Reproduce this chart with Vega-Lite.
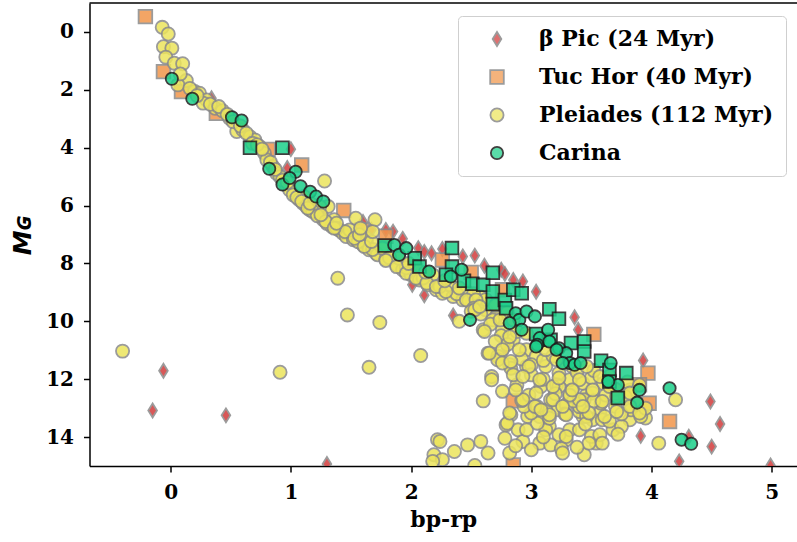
{
  "$schema": "https://vega.github.io/schema/vega-lite/v6.json",
  "width": 707.5,
  "height": 463,
  "autosize": {"type": "none"},
  "padding": {"left": 89.5, "top": 3, "right": 0, "bottom": 76},
  "background": "white",
  "config": {"view": {"stroke": null}, "legend": {"strokeColor": "#cfcfcf"}},
  "layer": [
    {
      "data": {"values": [
        {"group":"β Pic (24 Myr)","bp_rp":-0.06,"M_G":11.71},{"group":"β Pic (24 Myr)","bp_rp":-0.15,"M_G":13.08},{"group":"β Pic (24 Myr)","bp_rp":0.46,"M_G":13.25},{"group":"β Pic (24 Myr)","bp_rp":1.30,"M_G":14.93},
        {"group":"β Pic (24 Myr)","bp_rp":0.34,"M_G":2.29},{"group":"β Pic (24 Myr)","bp_rp":1.00,"M_G":4.05},{"group":"β Pic (24 Myr)","bp_rp":0.97,"M_G":4.70},{"group":"β Pic (24 Myr)","bp_rp":1.60,"M_G":6.57},
        {"group":"β Pic (24 Myr)","bp_rp":1.67,"M_G":6.84},{"group":"β Pic (24 Myr)","bp_rp":1.79,"M_G":6.84},{"group":"β Pic (24 Myr)","bp_rp":1.85,"M_G":6.90},{"group":"β Pic (24 Myr)","bp_rp":1.93,"M_G":7.15},
        {"group":"β Pic (24 Myr)","bp_rp":2.06,"M_G":7.47},{"group":"β Pic (24 Myr)","bp_rp":2.11,"M_G":7.60},{"group":"β Pic (24 Myr)","bp_rp":2.17,"M_G":7.65},{"group":"β Pic (24 Myr)","bp_rp":2.26,"M_G":7.50},
        {"group":"β Pic (24 Myr)","bp_rp":2.43,"M_G":7.76},{"group":"β Pic (24 Myr)","bp_rp":2.53,"M_G":7.73},{"group":"β Pic (24 Myr)","bp_rp":2.61,"M_G":8.08},{"group":"β Pic (24 Myr)","bp_rp":2.75,"M_G":8.22},
        {"group":"β Pic (24 Myr)","bp_rp":2.78,"M_G":8.36},{"group":"β Pic (24 Myr)","bp_rp":2.85,"M_G":8.57},{"group":"β Pic (24 Myr)","bp_rp":2.93,"M_G":8.62},{"group":"β Pic (24 Myr)","bp_rp":3.04,"M_G":8.98},
        {"group":"β Pic (24 Myr)","bp_rp":3.36,"M_G":9.86},{"group":"β Pic (24 Myr)","bp_rp":3.39,"M_G":10.29},{"group":"β Pic (24 Myr)","bp_rp":3.93,"M_G":11.35},{"group":"β Pic (24 Myr)","bp_rp":4.49,"M_G":12.77},
        {"group":"β Pic (24 Myr)","bp_rp":4.57,"M_G":13.55},{"group":"β Pic (24 Myr)","bp_rp":3.91,"M_G":13.96},{"group":"β Pic (24 Myr)","bp_rp":4.50,"M_G":14.33},{"group":"β Pic (24 Myr)","bp_rp":4.23,"M_G":14.84},
        {"group":"β Pic (24 Myr)","bp_rp":4.99,"M_G":14.98},{"group":"β Pic (24 Myr)","bp_rp":4.31,"M_G":13.99},{"group":"β Pic (24 Myr)","bp_rp":2.11,"M_G":9.10},{"group":"β Pic (24 Myr)","bp_rp":2.35,"M_G":9.80},
        {"group":"β Pic (24 Myr)","bp_rp":2.01,"M_G":8.74},{"group":"β Pic (24 Myr)","bp_rp":2.79,"M_G":10.93},
        {"group":"Tuc Hor (40 Myr)","bp_rp":-0.21,"M_G":-0.53},{"group":"Tuc Hor (40 Myr)","bp_rp":-0.06,"M_G":1.37},{"group":"Tuc Hor (40 Myr)","bp_rp":0.09,"M_G":2.06},{"group":"Tuc Hor (40 Myr)","bp_rp":0.38,"M_G":2.81},
        {"group":"Tuc Hor (40 Myr)","bp_rp":0.81,"M_G":4.06},{"group":"Tuc Hor (40 Myr)","bp_rp":1.09,"M_G":4.60},{"group":"Tuc Hor (40 Myr)","bp_rp":1.44,"M_G":6.17},{"group":"Tuc Hor (40 Myr)","bp_rp":1.59,"M_G":6.84},
        {"group":"Tuc Hor (40 Myr)","bp_rp":1.79,"M_G":7.06},{"group":"Tuc Hor (40 Myr)","bp_rp":2.26,"M_G":7.88},{"group":"Tuc Hor (40 Myr)","bp_rp":2.50,"M_G":8.31},{"group":"Tuc Hor (40 Myr)","bp_rp":2.76,"M_G":8.91},
        {"group":"Tuc Hor (40 Myr)","bp_rp":3.52,"M_G":10.45},{"group":"Tuc Hor (40 Myr)","bp_rp":3.97,"M_G":11.79},{"group":"Tuc Hor (40 Myr)","bp_rp":3.90,"M_G":12.19},{"group":"Tuc Hor (40 Myr)","bp_rp":2.85,"M_G":12.75},
        {"group":"Tuc Hor (40 Myr)","bp_rp":3.98,"M_G":12.83},{"group":"Tuc Hor (40 Myr)","bp_rp":4.15,"M_G":13.46},{"group":"Tuc Hor (40 Myr)","bp_rp":2.85,"M_G":14.96},
        {"group":"Pleiades (112 Myr)","bp_rp":-0.07,"M_G":-0.16},{"group":"Pleiades (112 Myr)","bp_rp":-0.02,"M_G":0.07},{"group":"Pleiades (112 Myr)","bp_rp":-0.06,"M_G":0.51},{"group":"Pleiades (112 Myr)","bp_rp":0.01,"M_G":0.56},
        {"group":"Pleiades (112 Myr)","bp_rp":-0.04,"M_G":0.87},{"group":"Pleiades (112 Myr)","bp_rp":0.03,"M_G":1.08},{"group":"Pleiades (112 Myr)","bp_rp":0.10,"M_G":1.10},{"group":"Pleiades (112 Myr)","bp_rp":0.13,"M_G":1.68},
        {"group":"Pleiades (112 Myr)","bp_rp":0.06,"M_G":1.83},{"group":"Pleiades (112 Myr)","bp_rp":0.20,"M_G":2.06},{"group":"Pleiades (112 Myr)","bp_rp":0.24,"M_G":2.12},{"group":"Pleiades (112 Myr)","bp_rp":0.30,"M_G":2.35},
        {"group":"Pleiades (112 Myr)","bp_rp":0.27,"M_G":2.46},{"group":"Pleiades (112 Myr)","bp_rp":0.37,"M_G":2.64},{"group":"Pleiades (112 Myr)","bp_rp":0.43,"M_G":2.72},{"group":"Pleiades (112 Myr)","bp_rp":0.49,"M_G":2.98},
        {"group":"Pleiades (112 Myr)","bp_rp":0.55,"M_G":3.44},{"group":"Pleiades (112 Myr)","bp_rp":0.60,"M_G":3.39},{"group":"Pleiades (112 Myr)","bp_rp":0.66,"M_G":3.62},{"group":"Pleiades (112 Myr)","bp_rp":0.70,"M_G":3.73},
        {"group":"Pleiades (112 Myr)","bp_rp":0.74,"M_G":3.96},{"group":"Pleiades (112 Myr)","bp_rp":0.78,"M_G":4.19},{"group":"Pleiades (112 Myr)","bp_rp":0.80,"M_G":4.42},{"group":"Pleiades (112 Myr)","bp_rp":0.85,"M_G":4.65},
        {"group":"Pleiades (112 Myr)","bp_rp":0.88,"M_G":4.88},{"group":"Pleiades (112 Myr)","bp_rp":0.91,"M_G":5.00},{"group":"Pleiades (112 Myr)","bp_rp":0.96,"M_G":5.28},{"group":"Pleiades (112 Myr)","bp_rp":0.99,"M_G":5.46},
        {"group":"Pleiades (112 Myr)","bp_rp":1.02,"M_G":5.63},{"group":"Pleiades (112 Myr)","bp_rp":1.28,"M_G":5.15},{"group":"Pleiades (112 Myr)","bp_rp":1.07,"M_G":5.80},{"group":"Pleiades (112 Myr)","bp_rp":1.10,"M_G":5.92},
        {"group":"Pleiades (112 Myr)","bp_rp":1.13,"M_G":6.03},{"group":"Pleiades (112 Myr)","bp_rp":1.16,"M_G":6.15},{"group":"Pleiades (112 Myr)","bp_rp":1.21,"M_G":6.26},{"group":"Pleiades (112 Myr)","bp_rp":1.27,"M_G":6.49},
        {"group":"Pleiades (112 Myr)","bp_rp":1.31,"M_G":6.03},{"group":"Pleiades (112 Myr)","bp_rp":1.34,"M_G":6.72},{"group":"Pleiades (112 Myr)","bp_rp":1.40,"M_G":6.84},{"group":"Pleiades (112 Myr)","bp_rp":1.43,"M_G":6.95},
        {"group":"Pleiades (112 Myr)","bp_rp":1.46,"M_G":7.07},{"group":"Pleiades (112 Myr)","bp_rp":1.52,"M_G":7.18},{"group":"Pleiades (112 Myr)","bp_rp":1.60,"M_G":7.36},{"group":"Pleiades (112 Myr)","bp_rp":1.63,"M_G":7.30},
        {"group":"Pleiades (112 Myr)","bp_rp":1.65,"M_G":7.53},{"group":"Pleiades (112 Myr)","bp_rp":1.71,"M_G":7.65},{"group":"Pleiades (112 Myr)","bp_rp":1.72,"M_G":7.70},{"group":"Pleiades (112 Myr)","bp_rp":1.79,"M_G":7.85},
        {"group":"Pleiades (112 Myr)","bp_rp":1.88,"M_G":8.05},{"group":"Pleiades (112 Myr)","bp_rp":1.93,"M_G":8.22},{"group":"Pleiades (112 Myr)","bp_rp":2.00,"M_G":8.39},{"group":"Pleiades (112 Myr)","bp_rp":2.07,"M_G":8.57},
        {"group":"Pleiades (112 Myr)","bp_rp":2.14,"M_G":8.74},{"group":"Pleiades (112 Myr)","bp_rp":2.21,"M_G":8.91},{"group":"Pleiades (112 Myr)","bp_rp":2.26,"M_G":9.03},{"group":"Pleiades (112 Myr)","bp_rp":2.35,"M_G":9.14},
        {"group":"Pleiades (112 Myr)","bp_rp":2.43,"M_G":9.26},{"group":"Pleiades (112 Myr)","bp_rp":2.51,"M_G":9.37},{"group":"Pleiades (112 Myr)","bp_rp":2.62,"M_G":9.60},{"group":"Pleiades (112 Myr)","bp_rp":2.71,"M_G":9.83},
        {"group":"Pleiades (112 Myr)","bp_rp":2.40,"M_G":10.00},{"group":"Pleiades (112 Myr)","bp_rp":1.11,"M_G":5.69},{"group":"Pleiades (112 Myr)","bp_rp":1.24,"M_G":6.03},{"group":"Pleiades (112 Myr)","bp_rp":1.36,"M_G":6.49},
        {"group":"Pleiades (112 Myr)","bp_rp":1.49,"M_G":6.84},{"group":"Pleiades (112 Myr)","bp_rp":1.63,"M_G":7.13},{"group":"Pleiades (112 Myr)","bp_rp":1.76,"M_G":7.47},{"group":"Pleiades (112 Myr)","bp_rp":1.90,"M_G":7.82},
        {"group":"Pleiades (112 Myr)","bp_rp":2.04,"M_G":8.11},{"group":"Pleiades (112 Myr)","bp_rp":2.18,"M_G":8.39},{"group":"Pleiades (112 Myr)","bp_rp":2.32,"M_G":8.74},{"group":"Pleiades (112 Myr)","bp_rp":2.46,"M_G":8.97},
        {"group":"Pleiades (112 Myr)","bp_rp":2.57,"M_G":9.14},{"group":"Pleiades (112 Myr)","bp_rp":1.54,"M_G":6.44},{"group":"Pleiades (112 Myr)","bp_rp":1.70,"M_G":6.49},{"group":"Pleiades (112 Myr)","bp_rp":1.39,"M_G":8.51},
        {"group":"Pleiades (112 Myr)","bp_rp":1.47,"M_G":9.78},{"group":"Pleiades (112 Myr)","bp_rp":1.74,"M_G":10.04},{"group":"Pleiades (112 Myr)","bp_rp":1.65,"M_G":11.59},{"group":"Pleiades (112 Myr)","bp_rp":0.91,"M_G":11.76},
        {"group":"Pleiades (112 Myr)","bp_rp":-0.40,"M_G":11.03},{"group":"Pleiades (112 Myr)","bp_rp":2.08,"M_G":11.18},
        {"group":"Pleiades (112 Myr)","bp_rp":0.33,"M_G":2.50},{"group":"Pleiades (112 Myr)","bp_rp":0.40,"M_G":2.58},{"group":"Pleiades (112 Myr)","bp_rp":0.47,"M_G":2.85},{"group":"Pleiades (112 Myr)","bp_rp":0.52,"M_G":3.10},
        {"group":"Pleiades (112 Myr)","bp_rp":0.58,"M_G":3.25},{"group":"Pleiades (112 Myr)","bp_rp":0.63,"M_G":3.50},{"group":"Pleiades (112 Myr)","bp_rp":0.68,"M_G":3.85},{"group":"Pleiades (112 Myr)","bp_rp":0.72,"M_G":3.90},
        {"group":"Pleiades (112 Myr)","bp_rp":0.76,"M_G":4.05},{"group":"Pleiades (112 Myr)","bp_rp":0.83,"M_G":4.50},{"group":"Pleiades (112 Myr)","bp_rp":0.87,"M_G":4.75},{"group":"Pleiades (112 Myr)","bp_rp":0.93,"M_G":5.12},
        {"group":"Pleiades (112 Myr)","bp_rp":0.97,"M_G":5.20},{"group":"Pleiades (112 Myr)","bp_rp":1.05,"M_G":5.72},{"group":"Pleiades (112 Myr)","bp_rp":1.18,"M_G":6.20},{"group":"Pleiades (112 Myr)","bp_rp":1.22,"M_G":6.35},
        {"group":"Pleiades (112 Myr)","bp_rp":1.30,"M_G":6.62},{"group":"Pleiades (112 Myr)","bp_rp":1.38,"M_G":6.78},{"group":"Pleiades (112 Myr)","bp_rp":1.45,"M_G":6.90},{"group":"Pleiades (112 Myr)","bp_rp":1.56,"M_G":7.25},
        {"group":"Pleiades (112 Myr)","bp_rp":1.68,"M_G":7.52},{"group":"Pleiades (112 Myr)","bp_rp":1.82,"M_G":7.80},{"group":"Pleiades (112 Myr)","bp_rp":1.96,"M_G":8.15},{"group":"Pleiades (112 Myr)","bp_rp":2.10,"M_G":8.50},
        {"group":"Pleiades (112 Myr)","bp_rp":2.24,"M_G":8.80},{"group":"Pleiades (112 Myr)","bp_rp":2.38,"M_G":9.05},{"group":"Pleiades (112 Myr)","bp_rp":2.48,"M_G":9.30},{"group":"Pleiades (112 Myr)","bp_rp":2.55,"M_G":9.45},
        {"group":"Pleiades (112 Myr)","bp_rp":0.16,"M_G":1.95},{"group":"Pleiades (112 Myr)","bp_rp":0.08,"M_G":1.45},{"group":"Pleiades (112 Myr)","bp_rp":0.22,"M_G":2.20},
        {"group":"Pleiades (112 Myr)","bp_rp":1.09,"M_G":5.86},{"group":"Pleiades (112 Myr)","bp_rp":1.14,"M_G":6.09},{"group":"Pleiades (112 Myr)","bp_rp":1.29,"M_G":6.55},{"group":"Pleiades (112 Myr)","bp_rp":1.36,"M_G":6.78},
        {"group":"Pleiades (112 Myr)","bp_rp":1.53,"M_G":7.13},{"group":"Pleiades (112 Myr)","bp_rp":1.61,"M_G":7.41},{"group":"Pleiades (112 Myr)","bp_rp":1.79,"M_G":7.90},{"group":"Pleiades (112 Myr)","bp_rp":1.88,"M_G":8.11},
        {"group":"Pleiades (112 Myr)","bp_rp":1.96,"M_G":8.34},{"group":"Pleiades (112 Myr)","bp_rp":2.04,"M_G":8.51},{"group":"Pleiades (112 Myr)","bp_rp":2.13,"M_G":8.68},{"group":"Pleiades (112 Myr)","bp_rp":2.21,"M_G":8.80},
        {"group":"Pleiades (112 Myr)","bp_rp":2.29,"M_G":8.97},{"group":"Pleiades (112 Myr)","bp_rp":1.25,"M_G":6.32},{"group":"Pleiades (112 Myr)","bp_rp":1.38,"M_G":6.61},{"group":"Pleiades (112 Myr)","bp_rp":1.57,"M_G":7.01},
        {"group":"Pleiades (112 Myr)","bp_rp":1.67,"M_G":7.24},{"group":"Pleiades (112 Myr)","bp_rp":1.68,"M_G":6.90},{"group":"Pleiades (112 Myr)","bp_rp":1.58,"M_G":6.78},{"group":"Pleiades (112 Myr)","bp_rp":1.16,"M_G":5.92},
        {"group":"Pleiades (112 Myr)","bp_rp":1.98,"M_G":8.00},{"group":"Pleiades (112 Myr)","bp_rp":2.12,"M_G":8.30},{"group":"Pleiades (112 Myr)","bp_rp":2.28,"M_G":8.60},{"group":"Pleiades (112 Myr)","bp_rp":2.40,"M_G":8.85},
        {"group":"Pleiades (112 Myr)","bp_rp":2.52,"M_G":9.05},{"group":"Pleiades (112 Myr)","bp_rp":2.62,"M_G":9.25},{"group":"Pleiades (112 Myr)","bp_rp":2.70,"M_G":9.45},{"group":"Pleiades (112 Myr)","bp_rp":2.80,"M_G":9.70},
        {"group":"Pleiades (112 Myr)","bp_rp":2.46,"M_G":9.26},{"group":"Pleiades (112 Myr)","bp_rp":2.54,"M_G":9.26},{"group":"Pleiades (112 Myr)","bp_rp":2.60,"M_G":10.29},{"group":"Pleiades (112 Myr)","bp_rp":2.64,"M_G":11.10},
        {"group":"Pleiades (112 Myr)","bp_rp":2.72,"M_G":11.21},{"group":"Pleiades (112 Myr)","bp_rp":2.82,"M_G":11.50},{"group":"Pleiades (112 Myr)","bp_rp":2.67,"M_G":11.91},{"group":"Pleiades (112 Myr)","bp_rp":2.68,"M_G":9.95},
        {"group":"Pleiades (112 Myr)","bp_rp":2.76,"M_G":10.29},{"group":"Pleiades (112 Myr)","bp_rp":2.85,"M_G":10.64},{"group":"Pleiades (112 Myr)","bp_rp":2.96,"M_G":10.98},{"group":"Pleiades (112 Myr)","bp_rp":3.04,"M_G":11.21},
        {"group":"Pleiades (112 Myr)","bp_rp":3.12,"M_G":11.56},{"group":"Pleiades (112 Myr)","bp_rp":3.23,"M_G":11.79},{"group":"Pleiades (112 Myr)","bp_rp":2.96,"M_G":11.56},{"group":"Pleiades (112 Myr)","bp_rp":2.72,"M_G":11.33},
        {"group":"Pleiades (112 Myr)","bp_rp":2.67,"M_G":12.02},{"group":"Pleiades (112 Myr)","bp_rp":2.76,"M_G":12.42},{"group":"Pleiades (112 Myr)","bp_rp":2.60,"M_G":12.75},{"group":"Pleiades (112 Myr)","bp_rp":2.83,"M_G":13.23},
        {"group":"Pleiades (112 Myr)","bp_rp":2.79,"M_G":13.58},{"group":"Pleiades (112 Myr)","bp_rp":2.22,"M_G":14.09},{"group":"Pleiades (112 Myr)","bp_rp":2.19,"M_G":14.61},{"group":"Pleiades (112 Myr)","bp_rp":2.36,"M_G":14.50},
        {"group":"Pleiades (112 Myr)","bp_rp":2.47,"M_G":14.27},{"group":"Pleiades (112 Myr)","bp_rp":2.58,"M_G":14.15},{"group":"Pleiades (112 Myr)","bp_rp":2.64,"M_G":14.55},{"group":"Pleiades (112 Myr)","bp_rp":2.82,"M_G":14.55},
        {"group":"Pleiades (112 Myr)","bp_rp":2.89,"M_G":13.75},{"group":"Pleiades (112 Myr)","bp_rp":2.93,"M_G":14.15},{"group":"Pleiades (112 Myr)","bp_rp":3.07,"M_G":14.21},{"group":"Pleiades (112 Myr)","bp_rp":3.16,"M_G":14.27},
        {"group":"Pleiades (112 Myr)","bp_rp":3.29,"M_G":14.09},{"group":"Pleiades (112 Myr)","bp_rp":3.44,"M_G":14.61},{"group":"Pleiades (112 Myr)","bp_rp":3.54,"M_G":14.21},{"group":"Pleiades (112 Myr)","bp_rp":3.68,"M_G":13.75},
        {"group":"Pleiades (112 Myr)","bp_rp":3.82,"M_G":13.40},{"group":"Pleiades (112 Myr)","bp_rp":3.95,"M_G":13.34},{"group":"Pleiades (112 Myr)","bp_rp":2.97,"M_G":13.29},{"group":"Pleiades (112 Myr)","bp_rp":3.15,"M_G":13.63},
        {"group":"Pleiades (112 Myr)","bp_rp":3.32,"M_G":13.75},{"group":"Pleiades (112 Myr)","bp_rp":3.07,"M_G":13.29},{"group":"Pleiades (112 Myr)","bp_rp":3.21,"M_G":13.06},{"group":"Pleiades (112 Myr)","bp_rp":3.43,"M_G":13.29},
        {"group":"Pleiades (112 Myr)","bp_rp":3.57,"M_G":13.17},{"group":"Pleiades (112 Myr)","bp_rp":3.70,"M_G":12.94},{"group":"Pleiades (112 Myr)","bp_rp":2.80,"M_G":13.52},{"group":"Pleiades (112 Myr)","bp_rp":2.78,"M_G":14.04},
        {"group":"Pleiades (112 Myr)","bp_rp":2.26,"M_G":14.78},{"group":"Pleiades (112 Myr)","bp_rp":2.96,"M_G":13.75},{"group":"Pleiades (112 Myr)","bp_rp":3.00,"M_G":14.44},{"group":"Pleiades (112 Myr)","bp_rp":3.12,"M_G":13.75},
        {"group":"Pleiades (112 Myr)","bp_rp":3.23,"M_G":13.92},{"group":"Pleiades (112 Myr)","bp_rp":3.05,"M_G":13.52},{"group":"Pleiades (112 Myr)","bp_rp":3.00,"M_G":13.17},{"group":"Pleiades (112 Myr)","bp_rp":2.94,"M_G":12.94},
        {"group":"Pleiades (112 Myr)","bp_rp":3.12,"M_G":13.06},{"group":"Pleiades (112 Myr)","bp_rp":3.16,"M_G":12.71},{"group":"Pleiades (112 Myr)","bp_rp":3.29,"M_G":12.88},{"group":"Pleiades (112 Myr)","bp_rp":3.40,"M_G":13.12},
        {"group":"Pleiades (112 Myr)","bp_rp":3.50,"M_G":13.98},{"group":"Pleiades (112 Myr)","bp_rp":3.51,"M_G":13.40},{"group":"Pleiades (112 Myr)","bp_rp":3.08,"M_G":12.25},{"group":"Pleiades (112 Myr)","bp_rp":3.21,"M_G":12.19},
        {"group":"Pleiades (112 Myr)","bp_rp":3.34,"M_G":12.37},{"group":"Pleiades (112 Myr)","bp_rp":3.46,"M_G":12.54},{"group":"Pleiades (112 Myr)","bp_rp":2.92,"M_G":12.74},{"group":"Pleiades (112 Myr)","bp_rp":3.32,"M_G":12.02},
        {"group":"Pleiades (112 Myr)","bp_rp":3.43,"M_G":12.14},{"group":"Pleiades (112 Myr)","bp_rp":3.51,"M_G":12.48},{"group":"Pleiades (112 Myr)","bp_rp":3.32,"M_G":12.60},{"group":"Pleiades (112 Myr)","bp_rp":3.44,"M_G":12.71},
        {"group":"Pleiades (112 Myr)","bp_rp":3.58,"M_G":12.83},{"group":"Pleiades (112 Myr)","bp_rp":3.46,"M_G":13.29},{"group":"Pleiades (112 Myr)","bp_rp":3.59,"M_G":13.40},{"group":"Pleiades (112 Myr)","bp_rp":3.75,"M_G":13.63},
        {"group":"Pleiades (112 Myr)","bp_rp":3.40,"M_G":13.75},{"group":"Pleiades (112 Myr)","bp_rp":3.57,"M_G":13.92},{"group":"Pleiades (112 Myr)","bp_rp":3.29,"M_G":13.98},{"group":"Pleiades (112 Myr)","bp_rp":3.48,"M_G":14.21},
        {"group":"Pleiades (112 Myr)","bp_rp":3.59,"M_G":14.21},{"group":"Pleiades (112 Myr)","bp_rp":3.83,"M_G":13.06},{"group":"Pleiades (112 Myr)","bp_rp":3.91,"M_G":13.29},{"group":"Pleiades (112 Myr)","bp_rp":3.82,"M_G":12.37},
        {"group":"Pleiades (112 Myr)","bp_rp":4.06,"M_G":14.21},{"group":"Pleiades (112 Myr)","bp_rp":4.20,"M_G":12.71},{"group":"Pleiades (112 Myr)","bp_rp":3.34,"M_G":11.56},{"group":"Pleiades (112 Myr)","bp_rp":3.23,"M_G":12.25},
        {"group":"Pleiades (112 Myr)","bp_rp":2.83,"M_G":11.62},{"group":"Pleiades (112 Myr)","bp_rp":2.18,"M_G":14.84},{"group":"Pleiades (112 Myr)","bp_rp":2.53,"M_G":14.98},{"group":"Pleiades (112 Myr)","bp_rp":2.24,"M_G":14.15},
        {"group":"Pleiades (112 Myr)","bp_rp":2.66,"M_G":10.10},{"group":"Pleiades (112 Myr)","bp_rp":2.75,"M_G":10.50},{"group":"Pleiades (112 Myr)","bp_rp":2.80,"M_G":10.80},{"group":"Pleiades (112 Myr)","bp_rp":2.88,"M_G":10.35},
        {"group":"Pleiades (112 Myr)","bp_rp":2.70,"M_G":10.70},{"group":"Pleiades (112 Myr)","bp_rp":2.92,"M_G":11.30},{"group":"Pleiades (112 Myr)","bp_rp":3.00,"M_G":11.50},{"group":"Pleiades (112 Myr)","bp_rp":3.10,"M_G":11.35},
        {"group":"Pleiades (112 Myr)","bp_rp":3.18,"M_G":11.20},{"group":"Pleiades (112 Myr)","bp_rp":3.28,"M_G":11.45},{"group":"Pleiades (112 Myr)","bp_rp":3.38,"M_G":11.75},{"group":"Pleiades (112 Myr)","bp_rp":3.50,"M_G":11.95},
        {"group":"Pleiades (112 Myr)","bp_rp":3.60,"M_G":12.15},{"group":"Pleiades (112 Myr)","bp_rp":3.70,"M_G":12.35},{"group":"Pleiades (112 Myr)","bp_rp":3.78,"M_G":12.60},{"group":"Pleiades (112 Myr)","bp_rp":3.88,"M_G":12.85},
        {"group":"Pleiades (112 Myr)","bp_rp":3.95,"M_G":13.00},{"group":"Pleiades (112 Myr)","bp_rp":3.62,"M_G":12.55},{"group":"Pleiades (112 Myr)","bp_rp":3.52,"M_G":12.75},{"group":"Pleiades (112 Myr)","bp_rp":3.40,"M_G":12.95},
        {"group":"Pleiades (112 Myr)","bp_rp":3.28,"M_G":13.20},{"group":"Pleiades (112 Myr)","bp_rp":3.15,"M_G":13.35},{"group":"Pleiades (112 Myr)","bp_rp":3.05,"M_G":12.95},{"group":"Pleiades (112 Myr)","bp_rp":2.98,"M_G":12.55},
        {"group":"Pleiades (112 Myr)","bp_rp":2.88,"M_G":12.20},{"group":"Pleiades (112 Myr)","bp_rp":2.85,"M_G":11.85},{"group":"Pleiades (112 Myr)","bp_rp":3.00,"M_G":11.85},{"group":"Pleiades (112 Myr)","bp_rp":3.10,"M_G":12.00},
        {"group":"Pleiades (112 Myr)","bp_rp":3.20,"M_G":12.50},{"group":"Pleiades (112 Myr)","bp_rp":3.35,"M_G":12.75},{"group":"Pleiades (112 Myr)","bp_rp":3.45,"M_G":13.55},{"group":"Pleiades (112 Myr)","bp_rp":3.65,"M_G":13.45},
        {"group":"Pleiades (112 Myr)","bp_rp":3.75,"M_G":13.20},{"group":"Pleiades (112 Myr)","bp_rp":3.72,"M_G":13.90},{"group":"Pleiades (112 Myr)","bp_rp":3.25,"M_G":14.40},{"group":"Pleiades (112 Myr)","bp_rp":3.38,"M_G":14.35},
        {"group":"Pleiades (112 Myr)","bp_rp":3.10,"M_G":14.00},{"group":"Pleiades (112 Myr)","bp_rp":2.87,"M_G":14.30},{"group":"Pleiades (112 Myr)","bp_rp":3.52,"M_G":11.70},{"group":"Pleiades (112 Myr)","bp_rp":3.65,"M_G":11.90},
        {"group":"Pleiades (112 Myr)","bp_rp":3.80,"M_G":12.10},{"group":"Pleiades (112 Myr)","bp_rp":3.90,"M_G":12.20},{"group":"Pleiades (112 Myr)","bp_rp":2.52,"M_G":9.55},{"group":"Pleiades (112 Myr)","bp_rp":2.58,"M_G":9.75},
        {"group":"Pleiades (112 Myr)","bp_rp":2.50,"M_G":9.65},{"group":"Pleiades (112 Myr)","bp_rp":3.26,"M_G":14.55},
        {"group":"Pleiades (112 Myr)","bp_rp":2.53,"M_G":9.60},{"group":"Pleiades (112 Myr)","bp_rp":2.61,"M_G":10.35},{"group":"Pleiades (112 Myr)","bp_rp":2.65,"M_G":11.10},{"group":"Pleiades (112 Myr)","bp_rp":2.76,"M_G":11.44},
        {"group":"Pleiades (112 Myr)","bp_rp":2.82,"M_G":13.17},{"group":"Pleiades (112 Myr)","bp_rp":2.93,"M_G":12.71},{"group":"Pleiades (112 Myr)","bp_rp":3.03,"M_G":12.94},{"group":"Pleiades (112 Myr)","bp_rp":3.15,"M_G":13.23},
        {"group":"Pleiades (112 Myr)","bp_rp":3.29,"M_G":13.23},{"group":"Pleiades (112 Myr)","bp_rp":3.40,"M_G":12.71},{"group":"Pleiades (112 Myr)","bp_rp":3.48,"M_G":13.17},{"group":"Pleiades (112 Myr)","bp_rp":3.61,"M_G":13.29},
        {"group":"Pleiades (112 Myr)","bp_rp":3.71,"M_G":13.12},{"group":"Pleiades (112 Myr)","bp_rp":3.82,"M_G":12.94},{"group":"Pleiades (112 Myr)","bp_rp":2.74,"M_G":9.95},{"group":"Pleiades (112 Myr)","bp_rp":2.82,"M_G":10.53},
        {"group":"Pleiades (112 Myr)","bp_rp":2.90,"M_G":10.98},{"group":"Pleiades (112 Myr)","bp_rp":2.98,"M_G":11.56},{"group":"Pleiades (112 Myr)","bp_rp":3.07,"M_G":12.02},{"group":"Pleiades (112 Myr)","bp_rp":3.18,"M_G":12.25},
        {"group":"Pleiades (112 Myr)","bp_rp":3.32,"M_G":12.55},{"group":"Pleiades (112 Myr)","bp_rp":2.93,"M_G":11.91},{"group":"Pleiades (112 Myr)","bp_rp":3.04,"M_G":12.48},{"group":"Pleiades (112 Myr)","bp_rp":3.18,"M_G":12.71},
        {"group":"Pleiades (112 Myr)","bp_rp":3.23,"M_G":11.96},{"group":"Pleiades (112 Myr)","bp_rp":3.40,"M_G":12.02},{"group":"Pleiades (112 Myr)","bp_rp":3.51,"M_G":12.37},{"group":"Pleiades (112 Myr)","bp_rp":3.57,"M_G":11.91},
        {"group":"Pleiades (112 Myr)","bp_rp":3.46,"M_G":11.56},{"group":"Pleiades (112 Myr)","bp_rp":3.21,"M_G":11.33},{"group":"Pleiades (112 Myr)","bp_rp":3.12,"M_G":10.98},{"group":"Pleiades (112 Myr)","bp_rp":3.71,"M_G":12.60},
        {"group":"Pleiades (112 Myr)","bp_rp":3.82,"M_G":12.48},{"group":"Pleiades (112 Myr)","bp_rp":3.90,"M_G":13.17},{"group":"Pleiades (112 Myr)","bp_rp":2.87,"M_G":12.37},{"group":"Pleiades (112 Myr)","bp_rp":2.57,"M_G":9.49},
        {"group":"Pleiades (112 Myr)","bp_rp":2.85,"M_G":9.95},{"group":"Pleiades (112 Myr)","bp_rp":2.96,"M_G":10.41},{"group":"Pleiades (112 Myr)","bp_rp":2.76,"M_G":10.98},{"group":"Pleiades (112 Myr)","bp_rp":2.83,"M_G":11.39},
        {"group":"Pleiades (112 Myr)","bp_rp":3.08,"M_G":13.06},{"group":"Pleiades (112 Myr)","bp_rp":3.26,"M_G":12.94},{"group":"Pleiades (112 Myr)","bp_rp":3.43,"M_G":12.94},{"group":"Pleiades (112 Myr)","bp_rp":3.59,"M_G":12.77},
        {"group":"Pleiades (112 Myr)","bp_rp":3.34,"M_G":12.37},{"group":"Pleiades (112 Myr)","bp_rp":3.65,"M_G":12.25},
        {"group":"Carina (squares)","bp_rp":0.66,"M_G":4.00},{"group":"Carina (squares)","bp_rp":0.93,"M_G":4.00},{"group":"Carina (squares)","bp_rp":1.78,"M_G":7.38},{"group":"Carina (squares)","bp_rp":2.03,"M_G":7.82},
        {"group":"Carina (squares)","bp_rp":2.07,"M_G":8.11},{"group":"Carina (squares)","bp_rp":2.34,"M_G":7.47},{"group":"Carina (squares)","bp_rp":2.34,"M_G":8.11},{"group":"Carina (squares)","bp_rp":2.29,"M_G":8.39},
        {"group":"Carina (squares)","bp_rp":2.44,"M_G":8.60},{"group":"Carina (squares)","bp_rp":2.51,"M_G":8.70},{"group":"Carina (squares)","bp_rp":2.60,"M_G":8.74},{"group":"Carina (squares)","bp_rp":2.68,"M_G":8.32},
        {"group":"Carina (squares)","bp_rp":2.68,"M_G":8.97},{"group":"Carina (squares)","bp_rp":2.68,"M_G":9.40},{"group":"Carina (squares)","bp_rp":2.78,"M_G":9.26},{"group":"Carina (squares)","bp_rp":2.79,"M_G":9.55},
        {"group":"Carina (squares)","bp_rp":2.85,"M_G":8.91},{"group":"Carina (squares)","bp_rp":2.92,"M_G":9.03},{"group":"Carina (squares)","bp_rp":3.15,"M_G":9.58},{"group":"Carina (squares)","bp_rp":3.23,"M_G":9.91},
        {"group":"Carina (squares)","bp_rp":3.04,"M_G":10.44},{"group":"Carina (squares)","bp_rp":3.16,"M_G":10.64},{"group":"Carina (squares)","bp_rp":3.33,"M_G":10.75},{"group":"Carina (squares)","bp_rp":3.44,"M_G":10.70},
        {"group":"Carina (squares)","bp_rp":3.44,"M_G":11.04},{"group":"Carina (squares)","bp_rp":3.58,"M_G":11.36},{"group":"Carina (squares)","bp_rp":3.65,"M_G":11.68},{"group":"Carina (squares)","bp_rp":3.79,"M_G":11.79},
        {"group":"Carina (squares)","bp_rp":3.65,"M_G":12.08},{"group":"Carina (squares)","bp_rp":3.72,"M_G":12.65},
        {"group":"Carina","bp_rp":0.01,"M_G":1.62},{"group":"Carina","bp_rp":0.18,"M_G":2.31},{"group":"Carina","bp_rp":0.51,"M_G":2.95},{"group":"Carina","bp_rp":0.59,"M_G":3.06},
        {"group":"Carina","bp_rp":0.82,"M_G":4.73},{"group":"Carina","bp_rp":1.04,"M_G":4.83},{"group":"Carina","bp_rp":0.93,"M_G":5.27},{"group":"Carina","bp_rp":0.99,"M_G":5.05},
        {"group":"Carina","bp_rp":1.08,"M_G":5.33},{"group":"Carina","bp_rp":1.16,"M_G":5.52},{"group":"Carina","bp_rp":1.21,"M_G":5.69},{"group":"Carina","bp_rp":1.27,"M_G":5.86},
        {"group":"Carina","bp_rp":1.86,"M_G":7.36},{"group":"Carina","bp_rp":1.90,"M_G":7.70},{"group":"Carina","bp_rp":1.96,"M_G":7.47},{"group":"Carina","bp_rp":2.15,"M_G":8.28},
        {"group":"Carina","bp_rp":2.33,"M_G":8.45},{"group":"Carina","bp_rp":2.42,"M_G":8.22},{"group":"Carina","bp_rp":2.49,"M_G":9.95},{"group":"Carina","bp_rp":2.87,"M_G":9.72},
        {"group":"Carina","bp_rp":2.90,"M_G":9.95},{"group":"Carina","bp_rp":2.96,"M_G":9.66},{"group":"Carina","bp_rp":2.92,"M_G":10.29},{"group":"Carina","bp_rp":3.03,"M_G":9.83},
        {"group":"Carina","bp_rp":2.82,"M_G":10.06},{"group":"Carina","bp_rp":3.07,"M_G":10.58},{"group":"Carina","bp_rp":3.05,"M_G":10.81},{"group":"Carina","bp_rp":3.14,"M_G":10.29},
        {"group":"Carina","bp_rp":3.15,"M_G":10.70},{"group":"Carina","bp_rp":3.23,"M_G":10.93},{"group":"Carina","bp_rp":3.29,"M_G":11.10},{"group":"Carina","bp_rp":3.32,"M_G":11.44},
        {"group":"Carina","bp_rp":3.36,"M_G":11.50},{"group":"Carina","bp_rp":3.41,"M_G":11.44},{"group":"Carina","bp_rp":3.26,"M_G":11.44},{"group":"Carina","bp_rp":3.66,"M_G":11.44},
        {"group":"Carina","bp_rp":3.72,"M_G":12.20},{"group":"Carina","bp_rp":3.64,"M_G":12.08},{"group":"Carina","bp_rp":3.90,"M_G":12.37},{"group":"Carina","bp_rp":3.88,"M_G":12.81},
        {"group":"Carina","bp_rp":4.15,"M_G":12.31},{"group":"Carina","bp_rp":4.25,"M_G":14.09},{"group":"Carina","bp_rp":4.33,"M_G":14.23},{"group":"Carina","bp_rp":3.04,"M_G":10.87},
        {"group":"Carina","bp_rp":3.21,"M_G":10.98}
      ]},
      "mark": {"type": "point", "filled": true, "opacity": 0.85, "strokeWidth": 1.8, "clip": true},
      "encoding": {
        "x": {
          "field": "bp_rp", "type": "quantitative",
          "scale": {"domain": [-0.675, 5.21], "nice": false, "zero": false},
          "axis": {
            "values": [0, 1, 2, 3, 4, 5], "format": "d", "grid": false,
            "tickSize": 6, "tickWidth": 1.5, "tickColor": "black",
            "domainColor": "black", "domainWidth": 1.5,
            "labelFont": "DejaVu Serif", "labelFontWeight": "bold", "labelFontSize": 20, "labelColor": "black", "labelPadding": 10,
            "title": "bp-rp", "titleFont": "DejaVu Serif", "titleFontWeight": "bold", "titleFontSize": 22, "titleColor": "black", "titlePadding": 7
          }
        },
        "y": {
          "field": "M_G", "type": "quantitative",
          "scale": {"domain": [-1, 15], "reverse": true, "nice": false, "zero": false},
          "axis": {
            "values": [0, 2, 4, 6, 8, 10, 12, 14], "format": "d", "grid": false,
            "tickSize": 6, "tickWidth": 1.5, "tickColor": "black",
            "domainColor": "black", "domainWidth": 1.5,
            "labelFont": "DejaVu Serif", "labelFontWeight": "bold", "labelFontSize": 20, "labelColor": "black", "labelPadding": 10,
            "title": "Mɢ", "titleFont": "DejaVu Sans", "titleFontWeight": "bold", "titleFontStyle": "italic", "titleFontSize": 25, "titleColor": "black", "titlePadding": 10
          }
        },
        "shape": {
          "field": "group", "type": "nominal",
          "scale": {
            "domain": ["β Pic (24 Myr)", "Tuc Hor (40 Myr)", "Pleiades (112 Myr)", "Carina (squares)", "Carina"],
            "range": ["M0,-1L0.62,0L0,1L-0.62,0Z", "square", "circle", "square", "circle"]
          },
          "legend": {
            "orient": "none", "legendX": 368.5, "legendY": 13, "title": null,
            "values": ["β Pic (24 Myr)", "Tuc Hor (40 Myr)", "Pleiades (112 Myr)", "Carina"],
            "labelFont": "DejaVu Serif", "labelFontWeight": "bold", "labelFontSize": 22, "labelColor": "black", "labelLimit": 500,
            "padding": 12, "symbolOffset": 16, "labelOffset": 31, "rowPadding": 16,
            "strokeColor": "#cfcfcf", "fillColor": "rgba(255,255,255,0.85)", "cornerRadius": 4,
            "symbolStrokeWidth": 1.8, "symbolOpacity": 0.85
          }
        },
        "fill": {
          "field": "group", "type": "nominal",
          "scale": {
            "domain": ["β Pic (24 Myr)", "Tuc Hor (40 Myr)", "Pleiades (112 Myr)", "Carina (squares)", "Carina"],
            "range": ["#d23b3b", "#f1964b", "#ece45c", "#1ccf8a", "#1ccf8a"]
          }
        },
        "stroke": {
          "field": "group", "type": "nominal",
          "scale": {
            "domain": ["β Pic (24 Myr)", "Tuc Hor (40 Myr)", "Pleiades (112 Myr)", "Carina (squares)", "Carina"],
            "range": ["#8a8a8a", "#8a8a8a", "#8a8a8a", "#1e1e1e", "#1e1e1e"]
          }
        },
        "size": {
          "field": "group", "type": "nominal",
          "scale": {
            "domain": ["β Pic (24 Myr)", "Tuc Hor (40 Myr)", "Pleiades (112 Myr)", "Carina (squares)", "Carina"],
            "range": [196, 150, 121, 150, 121]
          }
        }
      }
    },
    {
      "data": {"values": [{}]},
      "mark": {"type": "rule", "color": "black", "strokeWidth": 1.5},
      "encoding": {"y": {"datum": -1}}
    }
  ]
}
